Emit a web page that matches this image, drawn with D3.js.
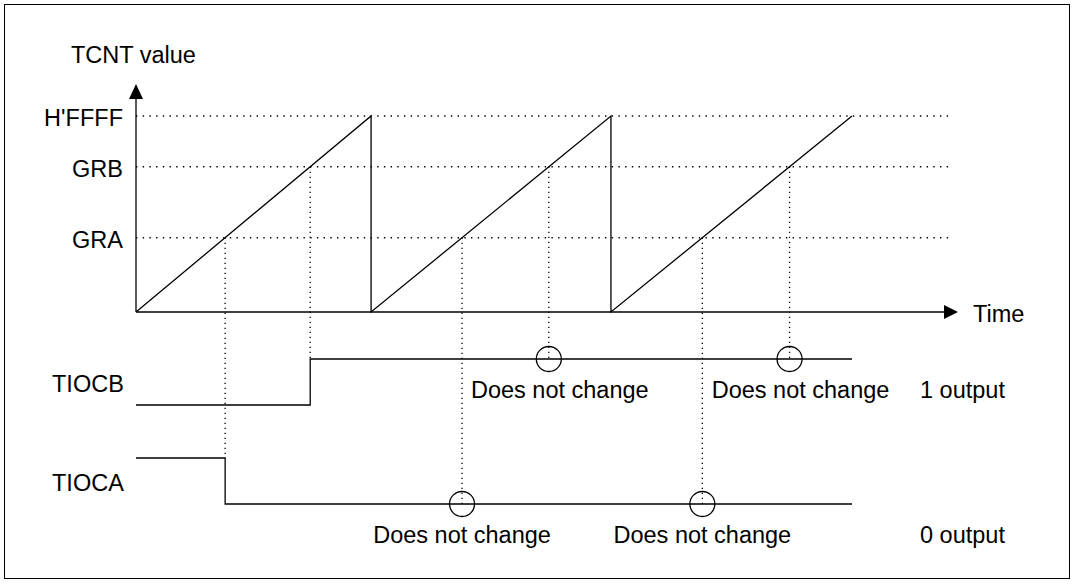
<!DOCTYPE html>
<meta charset="utf-8">
<style>

body {
  margin: 0;
  background: #fff;
}

text {
  font-family: "Liberation Sans", Arial, sans-serif;
  font-size: 23.5px;
  fill: #000;
}

.wave {
  fill: none;
  stroke: #000;
  stroke-width: 1.3px;
}

.guide {
  fill: none;
  stroke: #000;
  stroke-width: 1.4px;
  stroke-dasharray: 1.4, 5.3;
}

.drop {
  fill: none;
  stroke: #000;
  stroke-width: 1.3px;
  stroke-dasharray: 1.3, 3.7;
}

</style>
<body><svg width="1074" height="584"></svg></body>
<script src="https://d3js.org/d3.v7.min.js"></script>
<script>

// counter compare levels
var levelNames = ["GRA", "GRB", "H'FFFF"],
    levelValues = [24850, 48560, 65535];

// times (in periods) where TCNT clears / final top
var resetTimes = [0, 0.985, 1.99, 3];

// output pins
var signalNames = ["TIOCB", "TIOCA"],
    signalCompare = ["GRB", "GRA"],
    signalInit = [0, 1],
    signalOut = [1, 0],
    signalOutputText = ["1 output", "0 output"];

var noChangeText = "Does not change";

var svg = d3.select("svg"),
    width = +svg.attr("width"),
    height = +svg.attr("height");

var x = d3.scaleLinear().domain([0, 3]).range([136, 852]);
var y = d3.scaleLinear().domain([0, 65535]).range([312, 116]);

// each signal gets its own little 0/1 scale
var sigLow = [405, 504];
var sy = signalNames.map(function(d, i) {
  return d3.scaleLinear().domain([0, 1]).range([sigLow[i], sigLow[i] - 46]);
});

var maxVal = d3.max(levelValues);

svg.append("rect")
    .attr("x", 4.5).attr("y", 4.5)
    .attr("width", width - 9).attr("height", height - 10)
    .attr("fill", "none")
    .attr("stroke", "#000");

// horizontal dotted guides
svg.selectAll(".guide")
  .data(levelValues)
  .enter().append("line")
    .attr("class", "guide")
    .attr("x1", x(0)).attr("x2", 949)
    .attr("y1", function(d) { return y(d); })
    .attr("y2", function(d) { return y(d); });

svg.selectAll(".level-label")
  .data(levelNames)
  .enter().append("text")
    .attr("class", "level-label")
    .attr("text-anchor", "end")
    .attr("x", 123)
    .attr("y", function(d, i) { return y(levelValues[i]) + 10; })
    .text(function(d) { return d; });

// compare-match times
var matches = [];
signalNames.forEach(function(s, si) {
  var v = levelValues[levelNames.indexOf(signalCompare[si])];
  for (var k = 0; k < resetTimes.length - 1; k++) {
    var t0 = resetTimes[k], t1 = resetTimes[k + 1];
    matches.push({ sig: si, k: k, v: v, t: t0 + v / maxVal * (t1 - t0) });
  }
});

// vertical dotted drops
svg.selectAll(".drop")
  .data(matches)
  .enter().append("line")
    .attr("class", "drop")
    .attr("x1", function(d) { return x(d.t); })
    .attr("x2", function(d) { return x(d.t); })
    .attr("y1", function(d) { return y(d.v); })
    .attr("y2", function(d) {
      var lvl = d.k === 0 ? Math.max(signalInit[d.sig], signalOut[d.sig]) : signalOut[d.sig];
      return sy[d.sig](lvl);
    });

// sawtooth: ramp up, then straight drop at each reset
var sawPath = [];
for (var k = 0; k < resetTimes.length - 1; k++) {
  sawPath.push([resetTimes[k], 0]);
  sawPath.push([resetTimes[k + 1], maxVal]);
}
var sawLine = d3.line()
    .x(function(d) { return x(d[0]); })
    .y(function(d) { return y(d[1]); });

svg.append("path")
    .attr("class", "wave")
    .attr("d", sawLine(sawPath));

// axes with arrow heads
svg.append("line")
    .attr("class", "wave")
    .attr("x1", x(0)).attr("x2", x(0))
    .attr("y1", y(0)).attr("y2", 98);
svg.append("path")
    .attr("d", "M" + (x(0) - 7) + ",99L" + x(0) + ",84L" + (x(0) + 7) + ",99Z");

svg.append("line")
    .attr("class", "wave")
    .attr("x1", x(0)).attr("x2", 945)
    .attr("y1", y(0)).attr("y2", y(0));
svg.append("path")
    .attr("d", "M944," + (y(0) - 7) + "L958," + y(0) + "L944," + (y(0) + 7) + "Z");

svg.append("text").attr("x", 71).attr("y", 63).text("TCNT value");
svg.append("text").attr("x", 973).attr("y", y(0) + 10).text("Time");

// output waveforms
signalNames.forEach(function(s, si) {
  var tm = matches.filter(function(d) { return d.sig === si && d.k === 0; })[0].t;
  var pts = [[0, signalInit[si]], [tm, signalInit[si]], [tm, signalOut[si]], [3, signalOut[si]]];
  svg.append("path")
      .attr("class", "wave")
      .attr("d", d3.line()
        .x(function(d) { return x(d[0]); })
        .y(function(d) { return sy[si](d[1]); })(pts));

  svg.append("text")
      .attr("x", 52)
      .attr("y", (sy[si](0) + sy[si](1)) / 2 + 9.5)
      .text(s);

  svg.append("text")
      .attr("x", 920)
      .attr("y", sy[si](signalOut[si]) + 39)
      .text(signalOutputText[si]);
});

// "does not change" markers
var labelShift = [11, 0];
var same = matches.filter(function(d) { return d.k > 0; });

svg.selectAll(".nc")
  .data(same)
  .enter().append("circle")
    .attr("class", "nc")
    .attr("cx", function(d) { return x(d.t); })
    .attr("cy", function(d) { return sy[d.sig](signalOut[d.sig]); })
    .attr("r", 12.5)
    .attr("fill", "none")
    .attr("stroke", "#000")
    .attr("stroke-width", 1.3);

svg.selectAll(".nc-label")
  .data(same)
  .enter().append("text")
    .attr("class", "nc-label")
    .attr("text-anchor", "middle")
    .attr("x", function(d) { return x(d.t) + labelShift[d.sig]; })
    .attr("y", function(d) { return sy[d.sig](signalOut[d.sig]) + 39; })
    .text(noChangeText);

</script>
